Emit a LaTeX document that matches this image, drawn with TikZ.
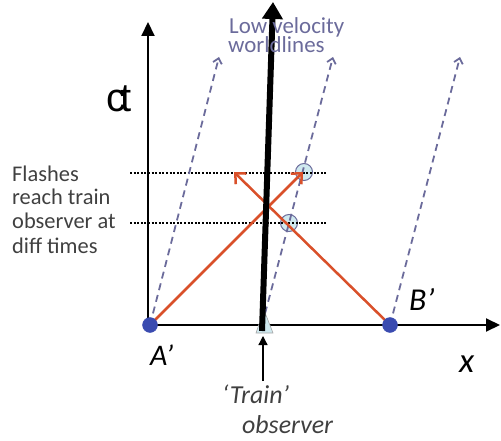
\documentclass[tikz,border=0pt]{standalone}
\usepackage{fontspec}
\setmainfont{Carlito}
\newfontfamily\ctfont{Liberation Sans}
\usetikzlibrary{arrows.meta}
\definecolor{wl}{HTML}{6B6B9B}
\definecolor{ray}{HTML}{D9502A}
\definecolor{dotblue}{HTML}{3A4BB0}
\definecolor{pale}{HTML}{CFE9EF}
\definecolor{txt}{HTML}{404040}
\tikzset{
  axis/.style={line width=2bp,-{Triangle[length=14bp,width=13bp]}},
  worldline/.style={wl,line width=1.8bp,dash pattern=on 7bp off 5bp,-{Straight Barb[length=5bp,width=9bp]}},
  guide/.style={line width=2.2bp,dash pattern=on 2bp off 1.6bp},
  lightray/.style={ray,line width=2.5bp,-{Straight Barb[length=8bp,width=15bp,line width=2.5bp]}},
  event/.style={circle,draw=dotblue,fill=dotblue,minimum size=15bp,inner sep=0pt},
  meet/.style={circle,draw=wl,fill=pale,line width=1bp,minimum size=17bp,inner sep=0pt},
  lab/.style={anchor=base west,inner sep=0pt},
}
\begin{document}
\begin{tikzpicture}[x=1bp,y=-1bp]
\useasboundingbox (0,0) rectangle (501,441);
% coordinates
\coordinate (O) at (148,325);
\coordinate (ytip) at (148,22);
\coordinate (xtip) at (500,325);
\coordinate (Tobs) at (262,325);
\coordinate (w1) at (219,57);
\coordinate (w2) at (333,57);
\coordinate (w3) at (460,57);
\coordinate (g1s) at (130,173);
\coordinate (g1e) at (328,173);
\coordinate (g2s) at (130,223);
\coordinate (g2e) at (328,223);
\coordinate (r1) at (303,172);
\coordinate (r2) at (234,172);
\coordinate (bar0) at (262,331);
\coordinate (bar1) at (273,2);
\coordinate (pa0) at (263,381);
\coordinate (pa1) at (263,336);
% meeting circles
\node[meet] (m1) at (304,172) {};
\node[meet] (m2) at (289,223) {};
% axes
\draw[axis] (O) -- (ytip);
\draw[axis] (O) -- (xtip);
% guides
\draw[guide] (g1s) -- (g1e);
\draw[guide] (g2s) -- (g2e);
% events
\coordinate (Apt) at (150,325);
\coordinate (Bpt) at (390,325);
% worldlines
\draw[worldline] (Apt) -- (w1);
\draw[worldline] (Tobs) -- (w2);
\draw[worldline] (Bpt) -- (w3);
% light rays
\draw[lightray] (Apt) -- (r1);
\draw[lightray] (Bpt) -- (r2);
\node[event] (A) at (Apt) {};
\node[event] (B) at (Bpt) {};
% train marker
\filldraw[fill=pale,draw=gray!70,line width=0.6bp] (256,333) -- (273,333) -- (264,310) -- cycle;
\draw[line width=6bp,-{Triangle[length=17bp,width=20bp]}] (bar0) -- (bar1);
\draw[line width=1.3bp,-{Triangle[length=9bp,width=9bp]}] (pa0) -- (pa1);
% labels
\node[lab,font=\ctfont\fontsize{40}{40}\selectfont] (ct) at (106,112) {c\kern-6bp t};
\node[lab,wl,font=\fontsize{23}{23}\selectfont] (lv1) at (229,34) {Low velocity};
\node[lab,wl,font=\fontsize{23}{23}\selectfont] (lv2) at (228,53) {worldlines};
\node[lab,txt,font=\fontsize{22.5}{22.5}\selectfont] (f1) at (12,182) {Flashes};
\node[lab,txt,font=\fontsize{22.5}{22.5}\selectfont] (f2) at (12,205) {reach train};
\node[lab,txt,font=\fontsize{22.5}{22.5}\selectfont] (f3) at (12,229) {observer at};
\node[lab,txt,font=\fontsize{22.5}{22.5}\selectfont] (f4) at (12,253) {diff times};
\node[lab,font=\itshape\fontsize{30}{30}\selectfont] (Al) at (150,365) {A’};
\node[lab,font=\itshape\fontsize{32}{32}\selectfont] (Bl) at (409,310) {B’};
\node[lab,font=\itshape\fontsize{35}{35}\selectfont] (xl) at (459,372) {x};
\node[lab,txt,font=\itshape\fontsize{26}{26}\selectfont] (t1) at (222,403) {‘Train’};
\node[lab,txt,font=\itshape\fontsize{26}{26}\selectfont] (t2) at (242,433) {observer};
\end{tikzpicture}
\end{document}
